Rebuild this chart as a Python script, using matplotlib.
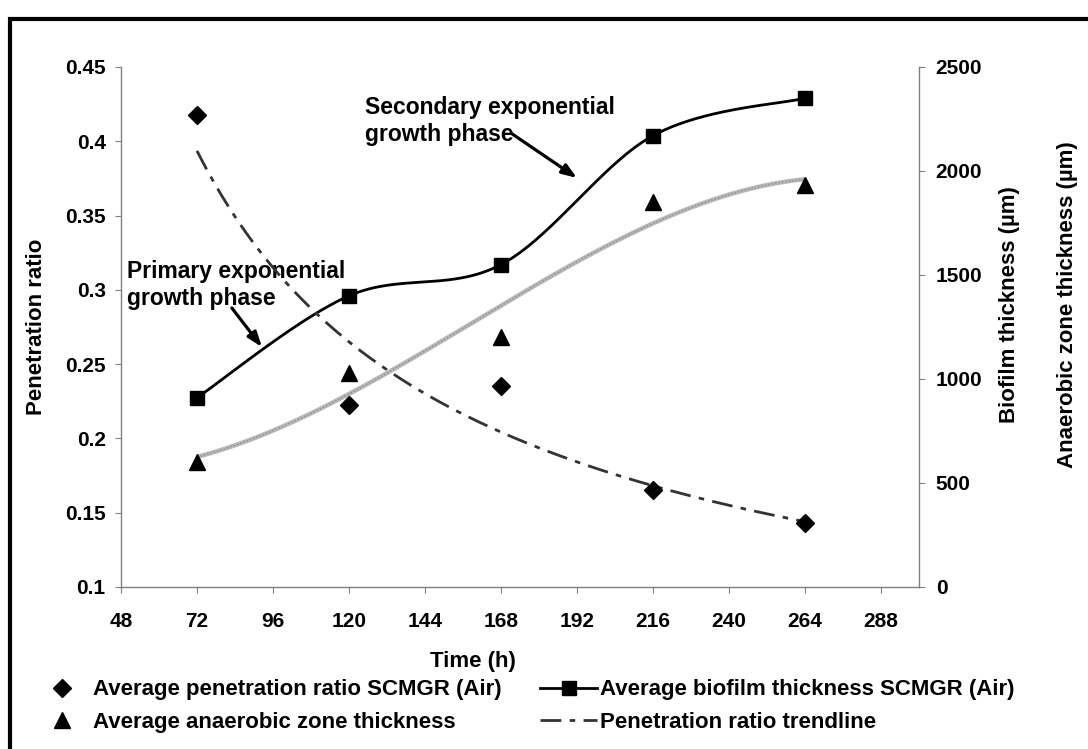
import numpy as np
import matplotlib
matplotlib.use("Agg")
import matplotlib.pyplot as plt
from matplotlib.lines import Line2D

plt.rcParams['font.family'] = ['Liberation Sans', 'DejaVu Sans']
plt.rcParams['font.weight'] = 'bold'

# Measurements over time
time_h = [72, 120, 168, 216, 264]
penetration_ratio = [0.418, 0.2225, 0.235, 0.165, 0.143]
biofilm_thickness = [910, 1400, 1550, 2170, 2350]
anaerobic_thickness = [600, 1030, 1200, 1850, 1935]

x_ticks = [48, 72, 96, 120, 144, 168, 192, 216, 240, 264, 288]
left_ticks = [0.1, 0.15, 0.2, 0.25, 0.3, 0.35, 0.4, 0.45]
left_tick_labels = ['0.1', '0.15', '0.2', '0.25', '0.3', '0.35', '0.4', '0.45']
right_ticks = [0, 500, 1000, 1500, 2000, 2500]

W, H = 1088, 749
fig = plt.figure(figsize=(W / 100, H / 100), dpi=100)
fig.patch.set_facecolor('white')

# chart-area border along the left and top edges
fig.add_artist(Line2D([10 / W, 10 / W, 1.0], [0.0, 1 - 19 / H, 1 - 19 / H],
                      transform=fig.transFigure, color='black', lw=3.0,
                      solid_joinstyle='miter'))

L, R, T, B = 121, 919, 67, 587
ax = fig.add_axes([L / W, 1 - B / H, (R - L) / W, (B - T) / H])
ax2 = ax.twinx()

ax.set_xlim(48, 300)
ax.set_ylim(0.1, 0.45)
ax2.set_ylim(0, 2500)

grey = '#808080'
for a in (ax, ax2):
    for s in a.spines.values():
        s.set_color(grey)
        s.set_linewidth(1.0)
    a.spines['top'].set_visible(False)
ax.spines['right'].set_visible(False)
ax2.spines['left'].set_visible(False)
ax2.spines['bottom'].set_visible(False)

ax.set_xticks(x_ticks)
ax.set_yticks(left_ticks)
ax.set_yticklabels(left_tick_labels)
ax2.set_yticks(right_ticks)
ax.tick_params(axis='x', direction='out', length=4, color=grey, labelsize=15, pad=14)
ax.tick_params(axis='y', direction='out', length=4, color=grey, labelsize=15, pad=7)
ax2.tick_params(axis='y', direction='out', length=4, color=grey, labelsize=15, pad=8)
for lab in ax.get_xticklabels() + ax.get_yticklabels() + ax2.get_yticklabels():
    lab.set_fontweight('bold')

# axis titles
fig.text(37 / W, 1 - 327 / H, 'Penetration ratio', rotation=90, ha='center', va='center',
         fontsize=16, fontweight='bold')
fig.text(1010 / W, 1 - 305 / H, 'Biofilm thickness (\u00b5m)', rotation=90, ha='center',
         va='center', fontsize=16, fontweight='bold')
fig.text(1067 / W, 1 - 305 / H, 'Anaerobic zone thickness (\u00b5m)', rotation=90,
         ha='center', va='center', fontsize=16, fontweight='bold')
fig.text(473 / W, 1 - 661 / H, 'Time (h)', ha='center', va='center',
         fontsize=16, fontweight='bold')

# annotations
arrow_kw = dict(arrowstyle='-|>,head_length=0.55,head_width=0.2', color='black', lw=2.3,
                mutation_scale=16, shrinkA=0, shrinkB=0)
ax.text(125, 0.4135, 'Secondary exponential\ngrowth phase', ha='left', va='center',
        fontsize=16.5, fontweight='bold', linespacing=1.22, zorder=1)
ax.annotate('', xy=(192, 0.3753), xytext=(171.5, 0.405), arrowprops=arrow_kw, zorder=1)
ax.text(49.9, 0.303, 'Primary exponential\ngrowth phase', ha='left', va='center',
        fontsize=16.5, fontweight='bold', linespacing=1.22, zorder=1)
ax.annotate('', xy=(92.5, 0.2615), xytext=(83.0, 0.2878), arrowprops=arrow_kw, zorder=1)

# power-law trendline of penetration ratio
tx = np.array(time_h, float)
b, a = np.polyfit(np.log(tx), np.log(penetration_ratio), 1)
xs = np.linspace(72, 264, 300)
trend = np.exp(a) * xs ** b
dash_style = (0, (7.5, 3.0, 2.0, 3.0))
ax.plot(xs, trend, color='#333333', lw=2.0, linestyle=dash_style, zorder=3)

# cubic polynomial trendline of anaerobic zone thickness
coef = np.polyfit(tx, anaerobic_thickness, 3)
ax2.plot(xs, np.polyval(coef, xs), color='#b8b8b8', lw=3.2, zorder=2, solid_capstyle='butt')
ax2.plot(xs, np.polyval(coef, xs), color='#8c8c8c', lw=1.0, linestyle=(0, (1, 1.5)),
         zorder=2)


# smoothed line through biofilm points (Catmull-Rom Bezier in screen units)
def smooth_curve(xd, yd, sx, sy, n=60):
    P = np.column_stack([np.asarray(xd, float) * sx, np.asarray(yd, float) * sy])
    pts = []
    m = len(P)
    for i in range(m - 1):
        p0 = P[i - 1] if i > 0 else P[i]
        p1, p2 = P[i], P[i + 1]
        p3 = P[i + 2] if i + 2 < m else P[i + 1]
        c1 = p1 + (p2 - p0) / 6.0
        c2 = p2 - (p3 - p1) / 6.0
        t = np.linspace(0, 1, n)[:, None]
        seg = ((1 - t) ** 3) * p1 + 3 * ((1 - t) ** 2) * t * c1 + 3 * (1 - t) * t ** 2 * c2 + t ** 3 * p2
        pts.append(seg if i == 0 else seg[1:])
    pts = np.vstack(pts)
    return pts[:, 0] / sx, pts[:, 1] / sy


sx = (R - L) / 252.0
sy = (B - T) / 2500.0
cx, cy = smooth_curve(time_h, biofilm_thickness, sx, sy)
ax2.plot(cx, cy, color='black', lw=2.0, zorder=4)
ax2.plot(time_h, biofilm_thickness, ls='none', marker='s', ms=10, color='black', zorder=5)
ax2.plot(time_h, anaerobic_thickness, ls='none', marker='^', ms=11, color='black', zorder=5)
ax.plot(time_h, penetration_ratio, ls='none', marker='D', ms=9.5, color='black', zorder=5)

ax.set_zorder(ax2.get_zorder() + 1)
ax.patch.set_visible(False)

# legend, two columns
h_diamond = Line2D([], [], ls='none', marker='D', ms=9.5, color='black')
h_triangle = Line2D([], [], ls='none', marker='^', ms=11, color='black')
h_biofilm = Line2D([], [], color='black', lw=2.0, marker='s', ms=10)
h_trend = Line2D([], [], color='#333333', lw=2.0, linestyle=dash_style)

leg_kw = dict(loc='center left', frameon=False, handlelength=2.57,
              handletextpad=0.15, borderpad=0, borderaxespad=0, labelspacing=0.5,
              bbox_transform=fig.transFigure, prop={'weight': 'bold', 'size': 16})
fig.legend([h_diamond, h_triangle],
           ['Average penetration ratio SCMGR (Air)', 'Average anaerobic zone thickness'],
           bbox_to_anchor=(33 / W, 1 - 706 / H), **leg_kw)
fig.legend([h_biofilm, h_trend],
           ['Average biofilm thickness SCMGR (Air)', 'Penetration ratio trendline'],
           bbox_to_anchor=(540 / W, 1 - 706 / H), **leg_kw)

fig.savefig('out.png', dpi=100)
